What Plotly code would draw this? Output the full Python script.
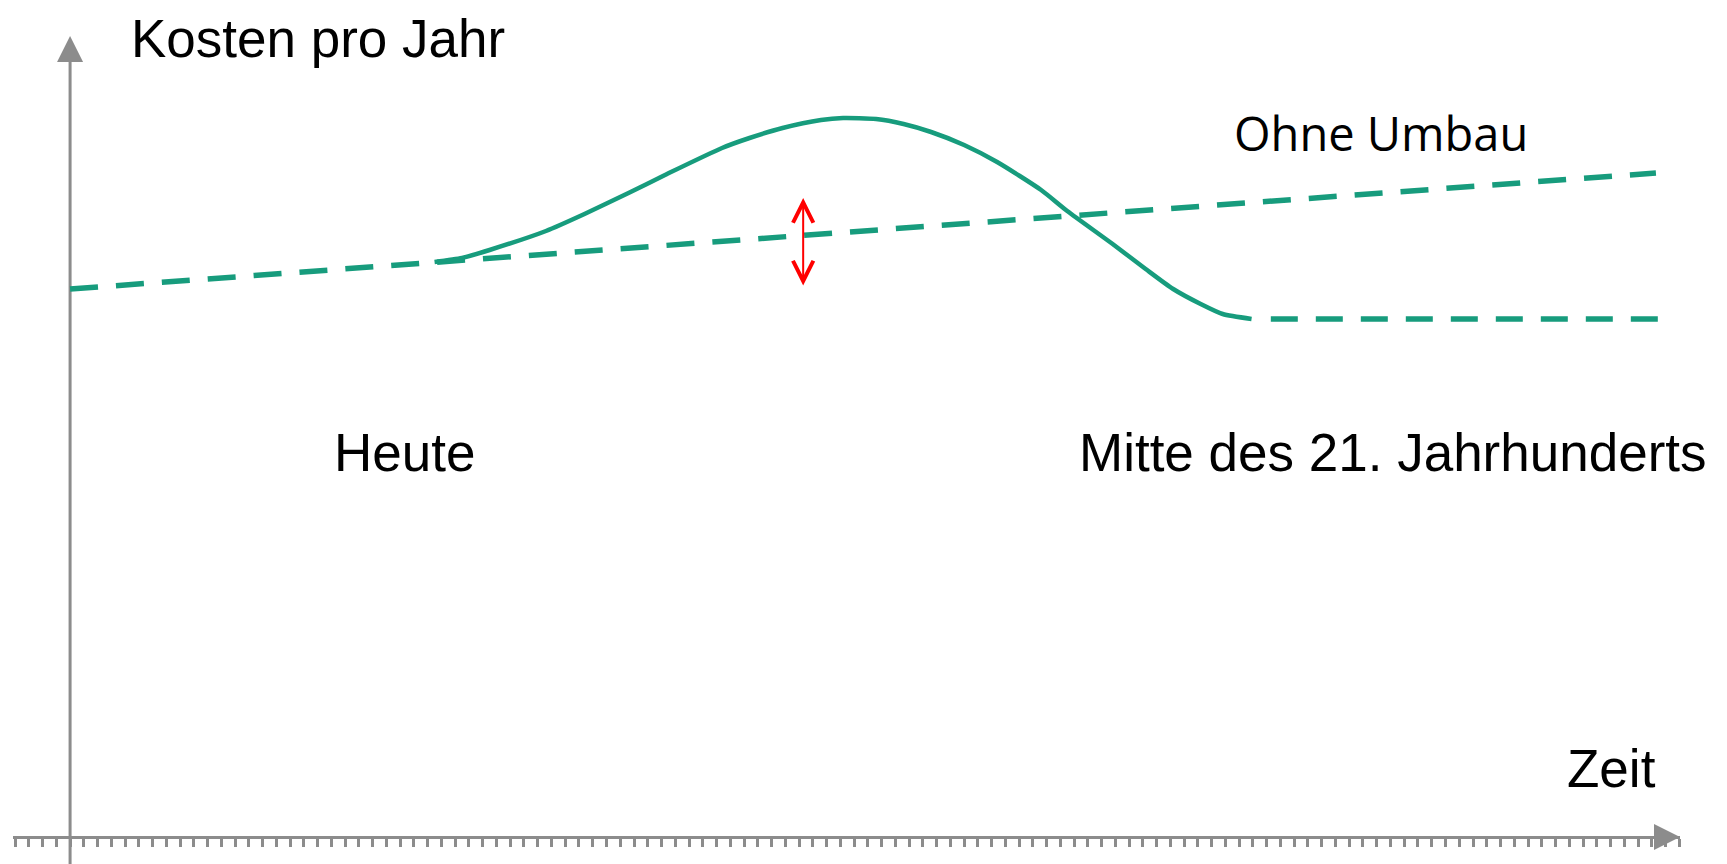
import plotly.graph_objects as go

# Achseneinheiten: x = Teilstriche auf der Zeitachse, y = Kosten (willkuerlich)
ohne_umbau_x = [0, 115.3]
ohne_umbau_y = [54.8, 66.4]

mit_umbau_x = [26.5, 28.5, 30.5, 34.6, 37.4, 40.6, 43.4, 47.4, 49.4, 51.8, 54.6, 56.2, 58.6,
               60.6, 62.6, 65.0, 67.4, 70.6, 72.5, 75.8, 78.2, 80.2, 82.2, 83.8, 85.9]
mit_umbau_y = [57.5, 57.9, 58.7, 60.6, 62.3, 64.4, 66.3, 68.9, 69.9, 70.9, 71.7, 71.9, 71.8,
               71.3, 70.5, 69.2, 67.5, 64.7, 62.6, 59.3, 56.8, 54.8, 53.3, 52.3, 51.8]

nach_umbau_x = [87.3, 115.6]
nach_umbau_y = [51.8, 51.8]

# Differenzpfeil zwischen den Kurven
diff_x = 53.3
diff_oben = 63.9
diff_unten = 55.0

# Teilstriche der Zeitachse, Achsenenden
tick_werte = list(range(-4, 118))
x_ende = 117.05
y_start = -2.7
y_linie_ende = 78.0
y_ende = 80.1

GRUEN = "#179C7D"
GRAU = "#8c8c8c"
SCHRIFT = "Liberation Sans, Arial, sans-serif"

# die Seite hat 8px Rand um das Diagramm
RAND = 8
W, H = 1727 - RAND, 864 - RAND

fig = go.Figure()

# y-Achse mit Pfeil, Pfeilspitze der x-Achse
fig.add_trace(go.Scatter(x=[0, 0], y=[y_start, y_linie_ende], mode="lines",
                         line=dict(color=GRAU, width=3)))
fig.add_trace(go.Scatter(x=[0], y=[y_ende], mode="markers", cliponaxis=False,
                         marker=dict(symbol="arrow-up", size=26, color=GRAU, line_width=0)))
fig.add_trace(go.Scatter(x=[x_ende], y=[0], mode="markers", cliponaxis=False,
                         marker=dict(symbol="arrow-right", size=26, color=GRAU, line_width=0)))

# Kurven
fig.add_trace(go.Scatter(x=ohne_umbau_x, y=ohne_umbau_y, mode="lines",
                         line=dict(color=GRUEN, width=5.5, dash="28px,18px")))
fig.add_trace(go.Scatter(x=mit_umbau_x, y=mit_umbau_y, mode="lines",
                         line=dict(color=GRUEN, width=4.5, shape="spline", smoothing=0.6)))
fig.add_trace(go.Scatter(x=nach_umbau_x, y=nach_umbau_y, mode="lines",
                         line=dict(color=GRUEN, width=5.5, dash="27px,18px")))

# Doppelpfeil
fig.add_annotation(x=diff_x, y=diff_oben, ax=diff_x, ay=diff_unten,
                   xref="x", yref="y", axref="x", ayref="y", text="",
                   showarrow=True, arrowside="end+start", arrowhead=5, startarrowhead=5,
                   arrowsize=2.0, startarrowsize=2.0, arrowwidth=2, arrowcolor="red",
                   standoff=0, startstandoff=0)


def beschriftung(text, px, py, size=53, family=SCHRIFT, anker="middle"):
	# px/py: Position auf dem Bildschirm
	fig.add_annotation(x=(px - RAND) / W, y=1 - (py - RAND) / H, xref="paper", yref="paper",
	                   text=text, showarrow=False, xanchor="left", yanchor=anker, borderpad=0,
	                   font=dict(family=family, size=size, color="black"))


beschriftung("Kosten pro Jahr", 130, RAND, anker="top")
beschriftung("Heute", 333, 453)
beschriftung("Mitte des 21. Jahrhunderts", 1078, 453)
beschriftung("Zeit", 1566, 768)
beschriftung("Ohne Umbau", 1233, 133, size=47, family="Open Sans, Noto Sans, sans-serif")

fig.update_layout(
	width=W, height=H,
	margin=dict(l=0, r=0, t=0, b=0),
	paper_bgcolor="white", plot_bgcolor="white",
	showlegend=False,
	xaxis=dict(domain=[(13 - RAND) / W, (1680 - RAND) / W], range=[-4.15, x_ende],
	           anchor="free", position=27 / H,
	           showline=True, linecolor=GRAU, linewidth=3,
	           ticks="outside", ticklen=8, tickwidth=2.5, tickcolor=GRAU,
	           tickmode="array", tickvals=tick_werte, showticklabels=False,
	           showgrid=False, zeroline=False),
	yaxis=dict(domain=[0, 1], range=[y_start, y_start + H / 10],
	           showline=False, ticks="", showticklabels=False,
	           showgrid=False, zeroline=False),
)

fig.write_html("out.html")
